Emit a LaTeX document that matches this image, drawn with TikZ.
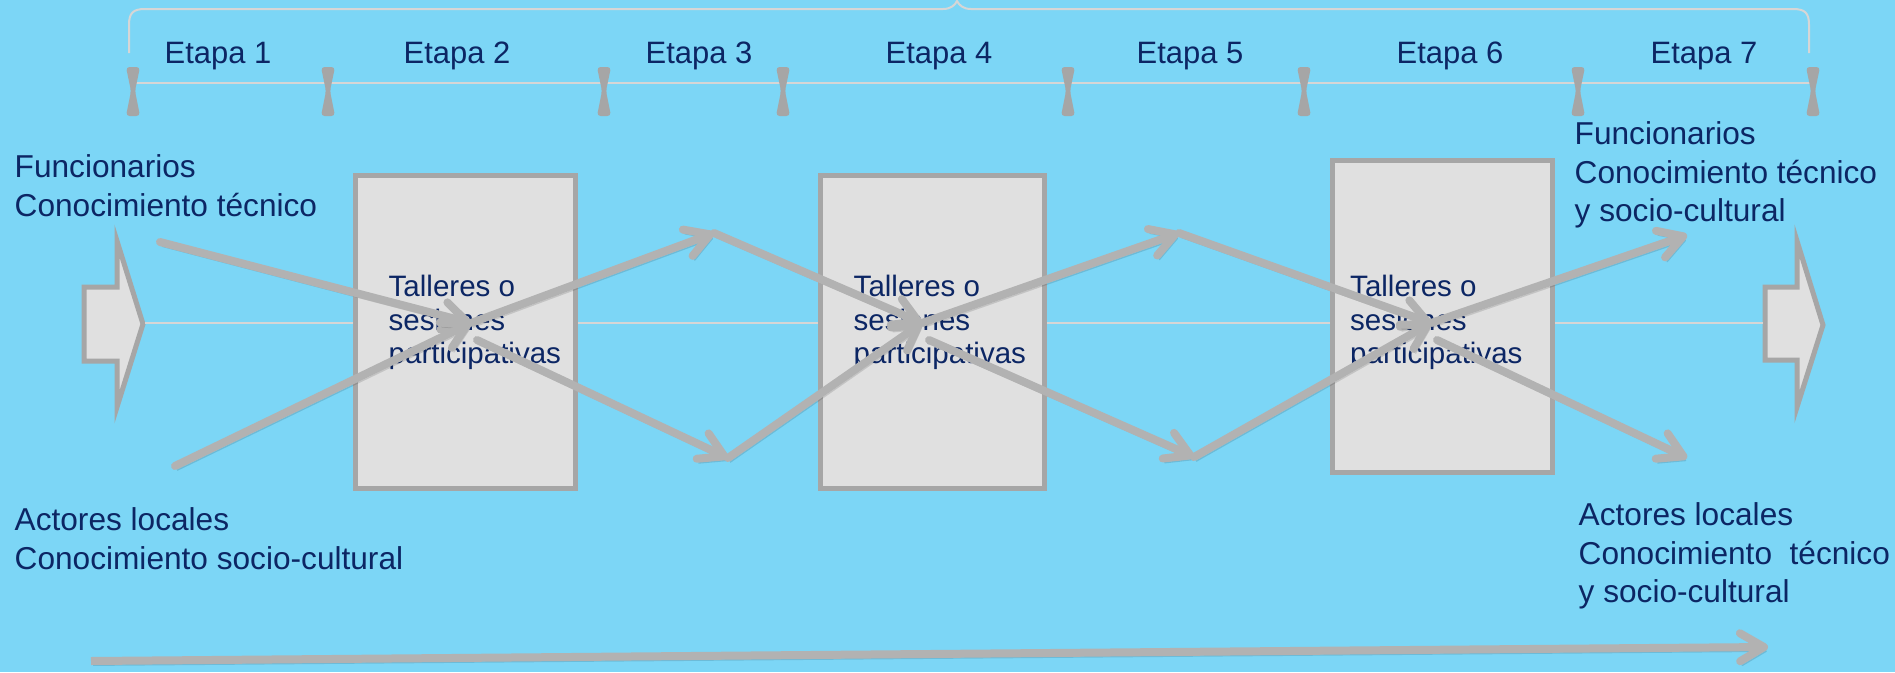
\documentclass[tikz,border=0pt]{standalone}
\usepackage{fontspec}
\setmainfont{Liberation Sans}
\usetikzlibrary{arrows.meta,positioning}
\definecolor{bgblue}{RGB}{124,214,246}
\definecolor{flowgray}{RGB}{178,178,178}
\definecolor{boxgray}{RGB}{166,166,166}
\definecolor{boxfill}{RGB}{224,224,224}
\definecolor{navy}{RGB}{12,38,100}
\definecolor{rulegray}{RGB}{214,214,214}

\begin{document}
\begin{tikzpicture}[x=0.1mm, y=-0.1mm,
    taller/.style={rectangle, draw=boxgray, fill=boxfill, line width=0.5mm, minimum width=2.2cm, minimum height=3.13cm},
    tallertxt/.style={text=navy, align=left, inner sep=0pt, font=\fontsize{8.4}{9.5}\selectfont},
    actor/.style={text=navy, align=left, inner sep=0pt, anchor=north west, font=\fontsize{9}{11}\selectfont},
    etapa/.style={text=navy, inner sep=0pt, font=\fontsize{8.8}{10}\selectfont},
    rule/.style={draw=rulegray, line width=0.2mm},
    blockarrow/.style={draw=boxgray, fill=boxfill, line width=0.5mm, line join=miter},
    flow/.style={-{Straight Barb[round, length=2.4mm, width=2.8mm]}, draw=flowgray, line width=0.8mm, line cap=round,
        preaction={draw=black, opacity=0.12, transform canvas={shift={(0.6pt,-1.2pt)}}}}
]
    % Background
    \fill[bgblue] (0,0) rectangle (1895,672);
    \useasboundingbox (0,0) rectangle (1895,672);

    % Brace over the stages
    \draw[rule] (129,53) -- (129,25) .. controls (129,13) and (133,9) .. (145,9) -- (943,9)
        .. controls (951,9) and (955,5) .. (957,1) .. controls (959,5) and (963,9) .. (971,9) -- (1793,9)
        .. controls (1805,9) and (1809,13) .. (1809,25) -- (1809,53);
    \draw[rule] (133,83) -- (1813,83);

    % Stage markers
    \foreach \x in {133,328,604,783,1068,1304,1578,1813}
        \fill[boxgray, rounded corners=1pt] ({\x-7},67) -- ({\x+7},67) -- ({\x+2},91) -- ({\x+7},116) -- ({\x-7},116) -- ({\x-2},91) -- cycle;

    % Stage labels
    \foreach \x/\n in {218/1,457/2,699/3,939/4,1190/5,1450/6,1704/7}
        \node[etapa] (e\n) at (\x,56) {Etapa \n};

    % In and out arrows with the process line
    \draw[blockarrow] (84,287) -- (117,287) -- (117,241) -- (143,324) -- (117,407) -- (117,361) -- (84,361) -- cycle;
    \draw[blockarrow] (1765,287) -- (1797,287) -- (1797,241) -- (1823,325) -- (1797,407) -- (1797,360) -- (1765,360) -- cycle;
    \coordinate (intip) at (145,323);
    \coordinate (outtail) at (1763,323);
    \draw[rule] (intip) -- (outtail);

    % Workshops
    \node[taller] (t1) at (465.5,332) {};
    \node[taller, minimum width=2.24cm] (t2) at (932.5,332) {};
    \node[taller, minimum height=3.12cm] (t3) at (1442,316.5) {};

    \node[tallertxt, right=3.5mm of t1.west, yshift=0.95mm] (t1txt) {Talleres o\\sesiones\\participativas};
    \node[tallertxt, right=3.5mm of t2.west, yshift=0.95mm] (t2txt) {Talleres o\\sesiones\\participativas};
    \node[tallertxt, right=2mm of t3.west, yshift=-0.6mm] (t3txt) {Talleres o\\sesiones\\participativas};

    % Knowledge flows
    \coordinate (f0) at (160,242);
    \coordinate (a0) at (175,466);
    \coordinate (k1) at (471,323);
    \coordinate (k1b) at (477,340);
    \coordinate (u1) at (714,233);
    \coordinate (l1) at (728,458);
    \coordinate (k2) at (922,323);
    \coordinate (k2b) at (929,340);
    \coordinate (u2) at (1179,233);
    \coordinate (l2) at (1194,457);
    \coordinate (k3) at (1431,323);
    \coordinate (k3b) at (1437,340);
    \coordinate (u3) at (1687,235);
    \coordinate (l3) at (1687,458);

    \draw[flow] (f0) -- (k1);
    \draw[flow] (a0) -- (k1);
    \draw[flow] (k1) -- (u1);
    \draw[flow] (k1b) -- (l1);
    \draw[flow] (u1) -- (k2);
    \draw[flow] (l1) -- (k2);
    \draw[flow] (k2) -- (u2);
    \draw[flow] (k2b) -- (l2);
    \draw[flow] (u2) -- (k3);
    \draw[flow] (l2) -- (k3);
    \draw[flow] (k3) -- (u3);
    \draw[flow] (k3b) -- (l3);

    % Actors
    \node[actor] (fun) at (14,154) {Funcionarios\\Conocimiento técnico};
    \node[actor] (act) at (14,507) {Actores locales\\Conocimiento socio-cultural};
    \node[actor] (funout) at (1574,121) {Funcionarios\\Conocimiento técnico\\y socio-cultural};
    \node[actor] (actout) at (1578,502) {Actores locales\\Conocimiento~ técnico\\y socio-cultural};

    % Time line
    \coordinate (tstart) at (91,661);
    \coordinate (tend) at (1768,647);
    \draw[flow, line cap=butt] (tstart) -- (tend);
\end{tikzpicture}
\end{document}
